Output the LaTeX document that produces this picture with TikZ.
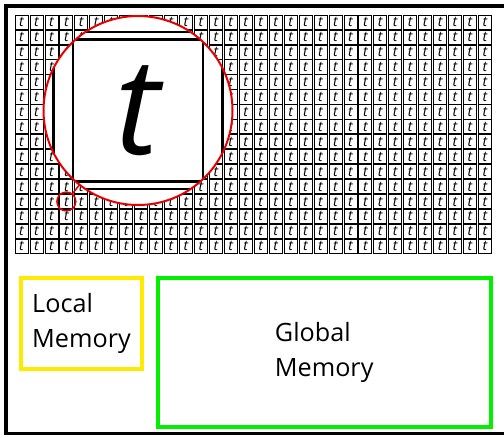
\documentclass[tikz,border=0pt]{standalone}
\usepackage{fontspec}
\setmainfont{Open Sans}
\definecolor{memyellow}{RGB}{255,235,0}
\definecolor{memgreen}{RGB}{0,240,0}
\definecolor{spyred}{RGB}{230,0,0}
\begin{document}
\begin{tikzpicture}[x=1pt,y=-1pt,
  cellbox/.style={draw=black, line width=0.8pt, minimum width=13pt, minimum height=14.2pt, inner sep=0pt, font=\fontsize{14}{14}\selectfont\itshape},
  bigcell/.style={draw=black, line width=2.8pt, minimum width=130pt, minimum height=142pt, inner sep=0pt, font=\fontsize{135}{135}\selectfont\itshape},
  membox/.style={line width=4pt, inner sep=0pt, align=left, font=\fontsize{25.2}{35}\selectfont},
  spycircle/.style={circle, draw=spyred, inner sep=0pt}]
\useasboundingbox (0,0) rectangle (504,437);
% outer frame
\draw[line width=3.6pt] (6,6) rectangle (505.5,433.5);
% grid of cells
\foreach \i in {0,...,31}{
  \foreach \j in {0,...,15}{
    \node[cellbox] (c-\i-\j) at ({21.5+14.95*\i},{22.1+14.95*\j}) {t};
  }
}
% magnified view
\begin{scope}
  \clip (138,110.5) circle (94.5);
  \fill[white] (138,110.5) circle (94.5);
  \foreach \di/\dj in {-1/-1,0/-1,1/-1,-1/0,1/0,-1/1,0/1,1/1}{
    \node[bigcell] (m-\di-\dj) at ({138+149.5*\di},{110.5+149.5*\dj}) {};
  }
  \node[bigcell] (m-0-0) at (138,110.5) {t};
\end{scope}
\node[spycircle, line width=2pt, minimum size=189pt] (spyB) at (138,110.5) {};
\node[spycircle, line width=1.5pt, minimum size=18.9pt] (spyA) at (c-3-12.center) {};
\draw[spyred, line width=1.5pt] (spyA) -- (spyB);
% memories
\node[membox, draw=memyellow, minimum width=121pt, minimum height=91pt] (local) at (81.5,323.5) {Local\\Memory};
\node[membox, draw=memgreen, minimum width=333pt, minimum height=149.3pt] (global) at (324.2,352.65) {Global\\Memory};
\end{tikzpicture}
\end{document}
